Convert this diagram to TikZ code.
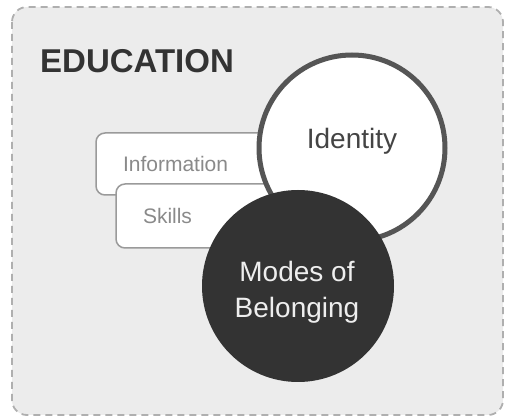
\documentclass[tikz,border=0pt]{standalone}
\usepackage{fontspec}
\setmainfont{Liberation Sans}
\definecolor{bgfill}{HTML}{ECECEC}
\definecolor{frame}{HTML}{AFAFAF}
\definecolor{boxline}{HTML}{9A9A9A}
\definecolor{boxtext}{HTML}{8A8A8A}
\definecolor{idline}{HTML}{555555}
\definecolor{idtext}{HTML}{444444}
\definecolor{dark}{HTML}{333333}
\definecolor{lighttext}{HTML}{EEEEEE}
\tikzset{
  tagbox/.style={draw=boxline, line width=1.5pt, fill=white, rounded corners=9pt,
    inner xsep=27pt, inner ysep=0pt, align=left, text=boxtext,
    font=\fontsize{21}{25}\selectfont},
  bigcircle/.style={circle, inner sep=0pt},
  circtext/.style={inner sep=0pt, align=center, font=\fontsize{28}{36}\selectfont}
}
\begin{document}
\begin{tikzpicture}[x=1pt,y=-1pt]
\useasboundingbox (0,0) rectangle (507,417);
\draw[frame, fill=bgfill, line width=1.8pt, dash pattern=on 7pt off 5pt, rounded corners=15pt]
  (12,7) rectangle (503,415);
\node[anchor=base west, inner sep=0pt, text=dark, font=\fontsize{33}{38}\selectfont\bfseries] (edu) at (40,73) {EDUCATION};
\node[tagbox, text width=150pt, minimum height=62pt] (info) at (198,164) {Information};
\node[tagbox, text width=120pt, minimum height=64pt] (skills) at (203,216) {\raisebox{-3pt}{Skills}};
\node[bigcircle, draw=idline, line width=5pt, fill=white, minimum size=186pt] (identity) at (352,148) {};
\node[circtext, text=idtext] (idlabel) at (352,141) {Identity};
\node[bigcircle, fill=dark, minimum size=192pt] (modes) at (298,286) {};
\node[circtext, text=lighttext] (modeslabel) at (297,292) {Modes of\\Belonging};
\end{tikzpicture}
\end{document}
